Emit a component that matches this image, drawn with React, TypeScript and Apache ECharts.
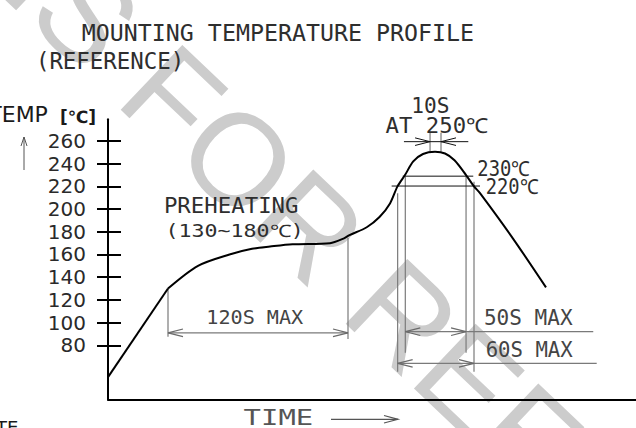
import React, { useEffect, useRef } from 'react';
import * as echarts from 'echarts';

// ---- data (time in s, temperature in °C) ----
const timeRange = [0, 352];
const tempRange = [32.25, 279.1];
const tempTicks = [80, 100, 120, 140, 160, 180, 200, 220, 240, 260];

const rampTime = [0, 40];
const rampTemp = [52, 130];

const profileTime = [40, 60, 81, 96, 108, 123, 148, 157, 161, 172.5, 181, 188, 193, 198, 203.5, 210, 218, 224.7, 231, 238.7, 244, 248, 270, 292];
const profileTemp = [130, 150, 160, 165, 167, 169, 170, 174, 177, 184, 193, 205, 220, 230, 242, 248.5, 250.5, 249, 243, 230, 220, 214, 174, 131];

// dimension / extension lines: [t1, T1, t2, T2]
const grayLines = [
  [40, 130, 40, 87.5],
  [160, 174.5, 160, 85.5],
  [40, 91, 160, 91],
  [193.1, 213.9, 193.1, 56.7],
  [244, 224, 244, 56.7],
  [193.1, 64.1, 325.8, 64.1],
  [198.2, 228.5, 198.2, 73.5],
  [238.7, 228.5, 238.7, 73.5],
  [198.2, 92, 323.5, 92],
  [214.7, 267.3, 214.7, 250.6],
  [222, 267.3, 222, 250.6],
];
const blackLines = [
  [196.5, 229, 243.5, 229],
  [189.1, 220.3, 248, 220.3],
  [197.3, 259.4, 240.2, 259.4],
];
// arrow heads: [t, T, direction (1 = points right, -1 = points left)]
const grayArrows = [
  [40, 91, -1],
  [160, 91, 1],
  [198.2, 92, -1],
  [238.7, 92, 1],
  [193.1, 64.1, -1],
  [244, 64.1, 1],
];
const blackArrows = [
  [214.7, 259.4, 1],
  [222, 259.4, -1],
];

const MONO = '"DejaVu Sans Mono", monospace';
const SANS = '"DejaVu Sans", sans-serif';

function cad(text: string, left: number, right: number, top: number, bottom: number, fill = '#2e2e2e') {
  const capH = bottom - top;
  const size = capH / 0.729;
  const n = Array.from(text).length;
  const natural = (n * 0.602 - 0.1) * size;
  const sx = (right - left) / natural;
  return {
    type: 'text',
    x: left - 0.05 * size * sx,
    y: (top + bottom) / 2,
    scaleX: sx,
    z: 10,
    style: { text, font: `${size.toFixed(1)}px ${MONO}`, fill, textAlign: 'left', textVerticalAlign: 'middle' },
  };
}

function lineRender(color: string, w: number) {
  return (params: any, api: any) => {
    const a = api.coord([api.value(0), api.value(1)]);
    const b = api.coord([api.value(2), api.value(3)]);
    return { type: 'line', shape: { x1: a[0], y1: a[1], x2: b[0], y2: b[1] }, style: { stroke: color, lineWidth: w } };
  };
}
function arrowRender(color: string, w: number) {
  return (params: any, api: any) => {
    const p = api.coord([api.value(0), api.value(1)]);
    const d = api.value(2);
    return {
      type: 'polyline',
      shape: { points: [[p[0] - d * 15, p[1] - 3.8], [p[0], p[1]], [p[0] - d * 15, p[1] + 3.8]] },
      style: { stroke: color, lineWidth: w, fill: 'none' },
    };
  };
}

export default function App() {
  const ref = useRef<HTMLDivElement>(null);
  useEffect(() => {
    if (!ref.current) return;
    const chart = echarts.init(ref.current, undefined, { renderer: 'svg' });
    const em = 130;
    const option: any = {
      animation: false,
      backgroundColor: '#ffffff',
      grid: { left: 108, right: 0, top: 119.3, bottom: 28.5, containLabel: false },
      xAxis: {
        type: 'value', min: timeRange[0], max: timeRange[1],
        axisLine: { show: true, onZero: false, lineStyle: { color: '#000', width: 2 } },
        axisTick: { show: false }, axisLabel: { show: false }, splitLine: { show: false },
      },
      yAxis: [
        {
          type: 'value', min: tempRange[0], max: tempRange[1], position: 'left',
          axisLine: { show: true, onZero: false, lineStyle: { color: '#000', width: 2 } },
          axisTick: { show: true, length: 11, lineStyle: { color: '#000', width: 2 }, customValues: tempTicks },
          axisLabel: { show: true, customValues: tempTicks, margin: 22, fontFamily: SANS, fontSize: 20, color: '#2a2a2a' },
          splitLine: { show: false },
        },
        {
          type: 'value', min: tempRange[0], max: tempRange[1], position: 'left',
          axisLine: { show: false },
          axisTick: { show: true, inside: true, length: 13, lineStyle: { color: '#000', width: 2 }, customValues: tempTicks },
          axisLabel: { show: false },
          splitLine: { show: false },
        },
      ],
      series: [
        { type: 'line', data: rampTime.map((t, i) => [t, rampTemp[i]]), symbol: 'none', lineStyle: { color: '#000', width: 2 }, z: 5 },
        { type: 'line', data: profileTime.map((t, i) => [t, profileTemp[i]]), smooth: 0.3, symbol: 'none', lineStyle: { color: '#000', width: 2 }, z: 5 },
        { type: 'custom', data: grayLines, renderItem: lineRender('#7a7a7a', 1.2), silent: true, z: 4 },
        { type: 'custom', data: blackLines, renderItem: lineRender('#111', 1), silent: true, z: 4 },
        { type: 'custom', data: grayArrows, renderItem: arrowRender('#6a6a6a', 1.2), silent: true, z: 4 },
        { type: 'custom', data: blackArrows, renderItem: arrowRender('#111', 1), silent: true, z: 4 },
      ],
      graphic: {
        elements: [
          {
            type: 'group', x: 144, y: 70, rotation: -0.76, z: -10, silent: true,
            children: [
              { type: 'text', x: 0, y: 0, z: -10, style: { text: 'FOR REFERENCE', font: `${em}px "Liberation Sans"`, fill: '#cccccc', textAlign: 'left', textVerticalAlign: 'middle' } },
              { type: 'text', x: -0.28 * em, y: 0, z: -10, style: { text: 'NS', font: `${em}px "Liberation Sans"`, fill: '#cccccc', textAlign: 'right', textVerticalAlign: 'middle' } },
            ],
          },
          cad('MOUNTING TEMPERATURE PROFILE', 83, 473, 25, 41.7),
          cad('(REFERENCE)', 37, 183, 52.7, 69),
          cad('PREHEATING', 165, 297.3, 198.3, 213.3),
          cad('(130~180℃)', 166.7, 295, 225, 237.5),
          cad('120S MAX', 207.3, 302.3, 311, 325, '#444'),
          cad('10S', 412.3, 448.3, 98.3, 113.3),
          cad('AT 250℃', 386.7, 478.3, 118.3, 133.3),
          cad('230℃', 478.3, 521.7, 161.7, 176.7),
          cad('220℃', 486.7, 530, 180, 195),
          cad('50S MAX', 485, 571.7, 309.3, 325, '#444'),
          cad('60S MAX', 486.7, 571.7, 341.7, 357.3, '#444'),
          cad('TIME', 245, 311.7, 411, 426, '#555'),
          { type: 'text', x: -11.7, y: 114, z: 10, style: { text: 'TEMP', font: `22px ${SANS}`, fill: '#1a1a1a', textAlign: 'left', textVerticalAlign: 'middle' } },
          { type: 'text', x: 60, y: 117, z: 10, style: { text: '[℃]', font: `bold 17px ${SANS}`, fill: '#1a1a1a', textAlign: 'left', textVerticalAlign: 'middle' } },
          { type: 'text', x: -4, y: 427, z: 10, style: { text: 'TE', font: `18px ${SANS}`, fill: '#1a1a1a', textAlign: 'left', textVerticalAlign: 'middle' } },
          { type: 'line', z: 10, shape: { x1: 24, y1: 137, x2: 24, y2: 170 }, style: { stroke: '#555', lineWidth: 1 } },
          { type: 'polyline', z: 10, shape: { points: [[21, 146], [24, 137], [27, 146]] }, style: { stroke: '#555', lineWidth: 1, fill: 'none' } },
          { type: 'line', z: 10, shape: { x1: 331, y1: 419.3, x2: 398, y2: 419.3 }, style: { stroke: '#555', lineWidth: 1.2 } },
          { type: 'polyline', z: 10, shape: { points: [[384, 415.5], [398, 419.3], [384, 423]] }, style: { stroke: '#555', lineWidth: 1.2, fill: 'none' } },
        ],
      },
    };
    chart.setOption(option);
    return () => chart.dispose();
  }, []);
  return <div ref={ref} style={{ position: 'fixed', left: 0, top: 0, width: 636, height: 428 }} />;
}
